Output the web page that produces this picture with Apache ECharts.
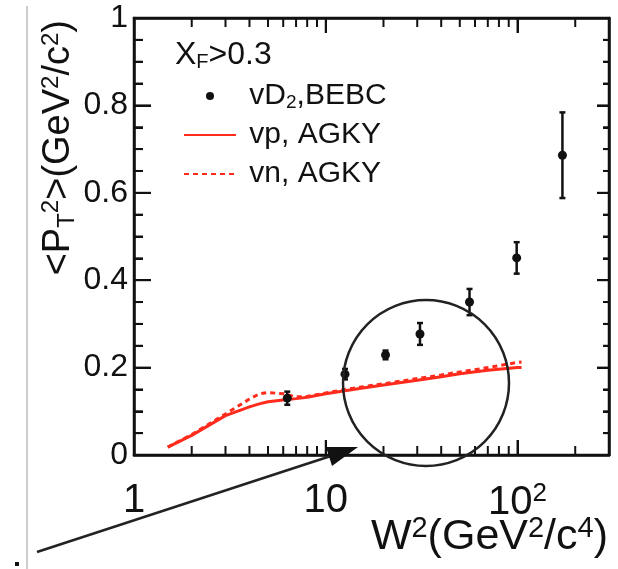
<!DOCTYPE html>
<html>
<head>
<meta charset="utf-8">
<script src="https://cdn.jsdelivr.net/npm/echarts@6/dist/echarts.min.js"></script>
<style>
  html, body { margin: 0; padding: 0; background: #fff; }
  #chart { width: 618px; height: 569px; }
</style>
</head>
<body>
<div id="chart"></div>
<script>
// vD2 BEBC data points (W^2 in GeV^2/c^4, <pT^2> in GeV^2/c^2)
var ptW2 = [6.3, 12.6, 20.5, 31, 56.2, 99, 171.5];
var ptPT2 = [0.13, 0.185, 0.229, 0.277, 0.35, 0.451, 0.686];
var ptErr = [0.015, 0.012, 0.01, 0.025, 0.03, 0.036, 0.098];

// AGKY model curves
var curveW2 = [1.5, 2, 3, 4, 4.5, 5, 6, 7, 8, 10, 15, 20, 30, 40, 50, 70, 100, 105];
var vpAGKY = [0.018, 0.045, 0.09, 0.11, 0.117, 0.122, 0.126, 0.129, 0.132, 0.14, 0.152, 0.16, 0.171, 0.179, 0.186, 0.194, 0.2, 0.2];
var vnAGKY = [0.018, 0.047, 0.094, 0.128, 0.14, 0.143, 0.14, 0.133, 0.134, 0.142, 0.155, 0.163, 0.175, 0.183, 0.19, 0.2, 0.212, 0.213];

// frame tick positions
var xMajorTicks = [1, 10, 100];
var xMinorTicks = [2, 3, 4, 5, 6, 7, 8, 9, 20, 30, 40, 50, 60, 70, 80, 90, 200];
var yMajorTicks = [0, 0.2, 0.4, 0.6, 0.8, 1];
var yMinorTicks = [0.05, 0.1, 0.15, 0.25, 0.3, 0.35, 0.45, 0.5, 0.55, 0.65, 0.7, 0.75, 0.85, 0.9, 0.95];

var FONT = 'Liberation Sans, Arial, sans-serif';
var RED = '#ff2b1c';
var INK = '#111';

var chart = echarts.init(document.getElementById('chart'));

function zip(a, b) {
    return a.map(function (v, i) { return [v, b[i]]; });
}

function frameLine() {
    return { show: true, onZero: false, lineStyle: { color: INK, width: 2.5 } };
}

var baseGraphic = [
    // annotation circle and arrow
    { type: 'circle', shape: { cx: 426, cy: 383, r: 83 }, style: { fill: 'none', stroke: '#222', lineWidth: 2.5 }, z: 10 },
    { type: 'line', shape: { x1: 37, y1: 552, x2: 340, y2: 453 }, style: { stroke: '#222', lineWidth: 2.5 }, z: 10 },
    { type: 'polygon', shape: { points: [[358, 447], [326, 447], [332, 466]] }, style: { fill: '#111' }, z: 10 },
    // page edge artefacts
    { type: 'line', shape: { x1: 27, y1: 6, x2: 27, y2: 569 }, style: { stroke: '#bbb', lineWidth: 1.5 } },
    { type: 'rect', shape: { x: 15, y: 562, width: 4, height: 4 }, style: { fill: '#111' } },
    // axis titles
    {
        type: 'text', x: 59, y: 20, rotation: Math.PI / 2,
        style: {
            text: '<P{sub|T}{sup|2}>(GeV{sup|2}/c{sup|2})',
            align: 'right', verticalAlign: 'middle',
            fontFamily: FONT, fontSize: 38, fill: INK,
            rich: {
                sub: { fontFamily: FONT, fontSize: 24, fill: INK, verticalAlign: 'bottom', padding: [16, 0, 0, 0] },
                sup: { fontFamily: FONT, fontSize: 24, fill: INK, verticalAlign: 'top', padding: [0, 0, 16, 0] }
            }
        }
    },
    {
        type: 'text', x: 608, y: 537,
        style: {
            text: 'W{sup|2}(GeV{sup|2}/c{sup|4})',
            align: 'right', verticalAlign: 'middle',
            fontFamily: FONT, fontSize: 43, fill: INK,
            rich: {
                sup: { fontFamily: FONT, fontSize: 29, fill: INK, verticalAlign: 'top', padding: [0, 0, 16, 0] }
            }
        }
    }
];

var option = {
    animation: false,
    backgroundColor: '#fff',
    grid: { left: 134, right: 9, top: 18, bottom: 114, outerBoundsMode: 'none' },
    title: {
        text: 'X{sub|F}>0.3',
        left: 170,
        top: 33,
        textStyle: {
            fontFamily: FONT, fontSize: 32, fontWeight: 'normal', color: INK,
            rich: { sub: { fontFamily: FONT, fontSize: 20, color: INK, verticalAlign: 'bottom', padding: [14, 0, 0, 0] } }
        }
    },
    legend: {
        orient: 'vertical',
        left: 178,
        top: 75,
        itemWidth: 52,
        itemHeight: 8,
        itemGap: 7,
        data: [
            { name: 'vD2,BEBC', icon: 'circle' },
            { name: 'vp, AGKY', itemStyle: { opacity: 0 } },
            { name: 'vn, AGKY', itemStyle: { opacity: 0 } }
        ],
        formatter: function (name) {
            return name === 'vD2,BEBC' ? ' vD{sub|2},BEBC' : ' ' + name;
        },
        textStyle: {
            fontFamily: FONT, fontSize: 30, color: INK, lineHeight: 32,
            rich: { sub: { fontFamily: FONT, fontSize: 19, color: INK, lineHeight: 32, verticalAlign: 'bottom', padding: [12, 0, 0, 0] } }
        }
    },
    xAxis: [{
        type: 'log',
        logBase: 10,
        min: 1,
        max: 300,
        axisLine: frameLine(),
        axisTick: { inside: true, length: 15, lineStyle: { color: INK, width: 2 } },
        splitLine: { show: false },
        axisLabel: {
            showMaxLabel: false,
            margin: 26,
            fontFamily: FONT, fontSize: 40, color: INK,
            formatter: function (v) {
                var p = Math.round(Math.log10(v));
                if (Math.abs(Math.log10(v) - p) > 1e-6) return '';
                if (p === 0) return '1';
                if (p === 1) return '10';
                return '10{sup|' + p + '}';
            },
            rich: { sup: { fontFamily: FONT, fontSize: 26, color: INK, verticalAlign: 'top', padding: [0, 0, 18, 0] } }
        }
    }, {
        type: 'log',
        logBase: 10,
        min: 1,
        max: 300,
        position: 'top',
        axisLine: frameLine(),
        axisTick: { inside: true, length: 15, lineStyle: { color: INK, width: 2 } },
        axisLabel: { show: false },
        splitLine: { show: false }
    }],
    yAxis: [{
        type: 'value',
        min: 0,
        max: 1,
        interval: 0.2,
        axisLine: frameLine(),
        axisTick: { show: true, inside: true, length: 17, lineStyle: { color: INK, width: 2 } },
        minorTick: { show: true, splitNumber: 4, length: 9, lineStyle: { color: INK, width: 2 } },
        splitLine: { show: false },
        axisLabel: { margin: 6, fontFamily: FONT, fontSize: 32, color: INK, padding: [12, 0, 0, 0] }
    }, {
        type: 'value',
        min: 0,
        max: 1,
        interval: 0.2,
        position: 'right',
        axisLine: frameLine(),
        axisTick: { show: true, inside: true, length: 12, lineStyle: { color: INK, width: 2 } },
        minorTick: { show: true, splitNumber: 4, length: 6, lineStyle: { color: INK, width: 2 } },
        splitLine: { show: false },
        axisLabel: { show: false }
    }],
    series: [{
        name: 'vp, AGKY',
        type: 'line',
        symbol: 'none',
        lineStyle: { color: RED, width: 3 },
        itemStyle: { color: RED },
        data: zip(curveW2, vpAGKY)
    }, {
        name: 'vn, AGKY',
        type: 'line',
        symbol: 'none',
        lineStyle: { color: RED, width: 3, type: [5, 4] },
        itemStyle: { color: RED },
        data: zip(curveW2, vnAGKY)
    }, {
        name: 'errBars',
        type: 'custom',
        silent: true,
        data: ptW2.map(function (w, i) { return [w, ptPT2[i], ptPT2[i] - ptErr[i], ptPT2[i] + ptErr[i]]; }),
        renderItem: function (params, api) {
            var lo = api.coord([api.value(0), api.value(2)]);
            var hi = api.coord([api.value(0), api.value(3)]);
            var st = { stroke: INK, lineWidth: 2.5 };
            return {
                type: 'group',
                children: [
                    { type: 'line', shape: { x1: lo[0], y1: lo[1], x2: hi[0], y2: hi[1] }, style: st },
                    { type: 'line', shape: { x1: lo[0] - 3, y1: lo[1], x2: lo[0] + 3, y2: lo[1] }, style: st },
                    { type: 'line', shape: { x1: hi[0] - 3, y1: hi[1], x2: hi[0] + 3, y2: hi[1] }, style: st }
                ]
            };
        }
    }, {
        name: 'vD2,BEBC',
        type: 'scatter',
        symbol: 'circle',
        symbolSize: 9,
        itemStyle: { color: INK, opacity: 1 },
        z: 5,
        data: zip(ptW2, ptPT2)
    }],
    graphic: baseGraphic
};

chart.setOption(option);

// frame box and inside ticks, placed through the grid's own scales
function px(v) {
    return chart.convertToPixel({ gridIndex: 0 }, v);
}
var c0 = px([1, 0]), c1 = px([300, 1]);
var L = c0[0], B = c0[1], R = c1[0], T = c1[1];
var tst = { stroke: INK, lineWidth: 2 };
var tickEls = [
    { type: 'rect', shape: { x: L, y: T, width: R - L, height: B - T }, style: { fill: 'none', stroke: INK, lineWidth: 2.5 }, z: 3 }
];
function xTick(v, len) {
    var x = px([v, 0])[0];
    tickEls.push({ type: 'line', shape: { x1: x, y1: B, x2: x, y2: B - len }, style: tst, z: 3 });
    tickEls.push({ type: 'line', shape: { x1: x, y1: T, x2: x, y2: T + len }, style: tst, z: 3 });
}
function yTick(v, lenL, lenR) {
    var y = px([1, v])[1];
    tickEls.push({ type: 'line', shape: { x1: L, y1: y, x2: L + lenL, y2: y }, style: tst, z: 3 });
    tickEls.push({ type: 'line', shape: { x1: R, y1: y, x2: R - lenR, y2: y }, style: tst, z: 3 });
}
xMajorTicks.forEach(function (v) { xTick(v, 15); });
xMinorTicks.forEach(function (v) { xTick(v, 9); });
yMajorTicks.forEach(function (v) { yTick(v, 17, 12); });
yMinorTicks.forEach(function (v) { yTick(v, 9, 6); });

chart.setOption({ graphic: baseGraphic.concat(tickEls) });
</script>
</body>
</html>
